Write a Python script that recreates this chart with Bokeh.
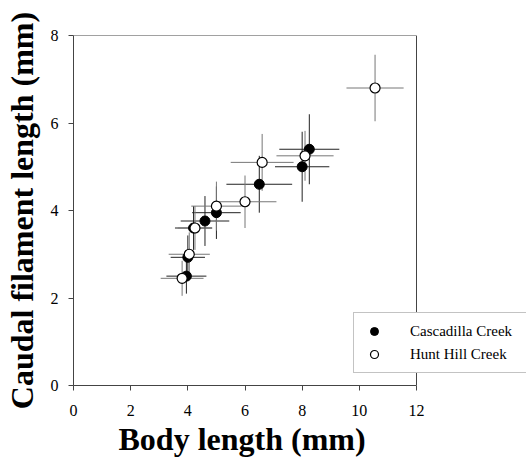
from bokeh.plotting import figure
from bokeh.models import ColumnDataSource, Legend, LegendItem, FixedTicker, Range1d, Title
from bokeh.embed import file_html
from bokeh.resources import INLINE

# Cascadilla Creek (filled)
cas_x = [3.95, 4.0, 4.2, 4.6, 5.0, 6.5, 8.0, 8.25]
cas_y = [2.5, 2.93, 3.6, 3.76, 3.95, 4.6, 5.0, 5.4]
cas_xerr = [0.7, 0.6, 0.65, 0.85, 0.85, 1.15, 0.95, 1.05]
cas_yerr = [0.4, 0.5, 0.5, 0.57, 0.6, 0.65, 0.8, 0.8]

# Hunt Hill Creek (open)
hh_x = [3.8, 4.05, 4.25, 5.0, 6.0, 6.6, 8.1, 10.55]
hh_y = [2.45, 3.0, 3.6, 4.1, 4.2, 5.1, 5.25, 6.8]
hh_xerr = [0.75, 0.72, 0.6, 0.88, 1.1, 1.1, 1.0, 1.0]
hh_yerr = [0.4, 0.5, 0.5, 0.56, 0.6, 0.65, 0.57, 0.76]

x_ticks = [0, 2, 4, 6, 8, 10, 12]
y_ticks = [0, 2, 4, 6, 8]


def make_source(x, y, xe, ye):
    return ColumnDataSource(dict(
        x=x, y=y,
        xl=[a - e for a, e in zip(x, xe)], xr=[a + e for a, e in zip(x, xe)],
        yl=[a - e for a, e in zip(y, ye)], yu=[a + e for a, e in zip(y, ye)],
    ))


cas = make_source(cas_x, cas_y, cas_xerr, cas_yerr)
hh = make_source(hh_x, hh_y, hh_xerr, hh_yerr)

# layout (pixels)
W, H = 526, 458
LEFT, TOP = 72, 35
AXIS_W, AXIS_H = 343, 350          # data box 0..12 x 0..8
FRAME_W = W - LEFT                  # frame extends to the right edge so the legend can overhang
x_end = x_ticks[-1] * FRAME_W / AXIS_W

p = figure(width=W, height=H, output_backend="svg", toolbar_location=None,
           x_range=Range1d(x_ticks[0], x_end), y_range=Range1d(y_ticks[0], y_ticks[-1]),
           min_border_left=LEFT, min_border_right=0, min_border_top=TOP,
           min_border_bottom=H - TOP - AXIS_H)
p.frame_width = FRAME_W
p.frame_height = AXIS_H
p.grid.visible = False
p.outline_line_color = None
p.background_fill_color = "white"
p.border_fill_color = "white"

FONT = "Liberation Serif"
AX_COL = "#444444"
for ax, ticks in ((p.xaxis[0], x_ticks), (p.yaxis[0], y_ticks)):
    ax.ticker = FixedTicker(ticks=ticks)
    ax.bounds = (ticks[0], ticks[-1])
    ax.minor_tick_line_color = None
    ax.major_tick_in = 0
    ax.major_tick_out = 5
    ax.axis_line_color = AX_COL
    ax.major_tick_line_color = AX_COL
    ax.major_label_text_font = FONT
    ax.major_label_text_font_size = "16px"
    ax.major_label_text_color = "black"
    ax.axis_label_text_font = FONT
    ax.axis_label_text_font_style = "bold"
    ax.axis_label_text_font_size = "32px"
    ax.axis_label_text_color = "black"

p.yaxis.axis_label = "Caudal filament length (mm)"
p.xaxis.major_label_standoff = 14
p.yaxis.major_label_standoff = 10
p.yaxis.axis_label_standoff = 8

# x-axis title, centred under the 0..12 data box
xtitle = Title(text="Body length (mm)", align="left", offset=45, standoff=0,
               text_font=FONT, text_font_style="bold", text_font_size="32px",
               text_color="black")
p.add_layout(xtitle, "below")

# top and right sides of the box
box = ColumnDataSource(dict(x0=[x_ticks[0], x_ticks[-1]], y0=[y_ticks[-1], y_ticks[0]],
                            x1=[x_ticks[-1], x_ticks[-1]], y1=[y_ticks[-1], y_ticks[-1]]))
p.segment("x0", "y0", "x1", "y1", source=box, line_color=AX_COL, line_width=1)

# error bars
for src, col in ((cas, "#222222"), (hh, "#777777")):
    p.segment(x0="xl", y0="y", x1="xr", y1="y", source=src, line_color=col, line_width=1)
    p.segment(x0="x", y0="yl", x1="x", y1="yu", source=src, line_color=col, line_width=1)

r_cas = p.scatter("x", "y", source=cas, size=10, marker="circle",
                  fill_color="black", line_color="black", line_width=1)
r_hh = p.scatter("x", "y", source=hh, size=10, marker="circle",
                 fill_color="white", line_color="black", line_width=1.2)

legend = Legend(items=[LegendItem(label="Cascadilla Creek", renderers=[r_cas]),
                       LegendItem(label="Hunt Hill Creek", renderers=[r_hh])],
                location=(280, 12))
legend.border_line_color = "#888888"
legend.border_line_width = 1
legend.background_fill_color = "white"
legend.background_fill_alpha = 1
legend.label_text_font = FONT
legend.label_text_font_size = "15px"
legend.label_text_color = "black"
legend.padding = 8
legend.margin = 0
legend.spacing = 3
legend.glyph_width = 24
legend.glyph_height = 20
legend.label_standoff = 24
legend.label_width = 150
p.add_layout(legend, "center")

open("out.html", "w").write(file_html(p, INLINE))
